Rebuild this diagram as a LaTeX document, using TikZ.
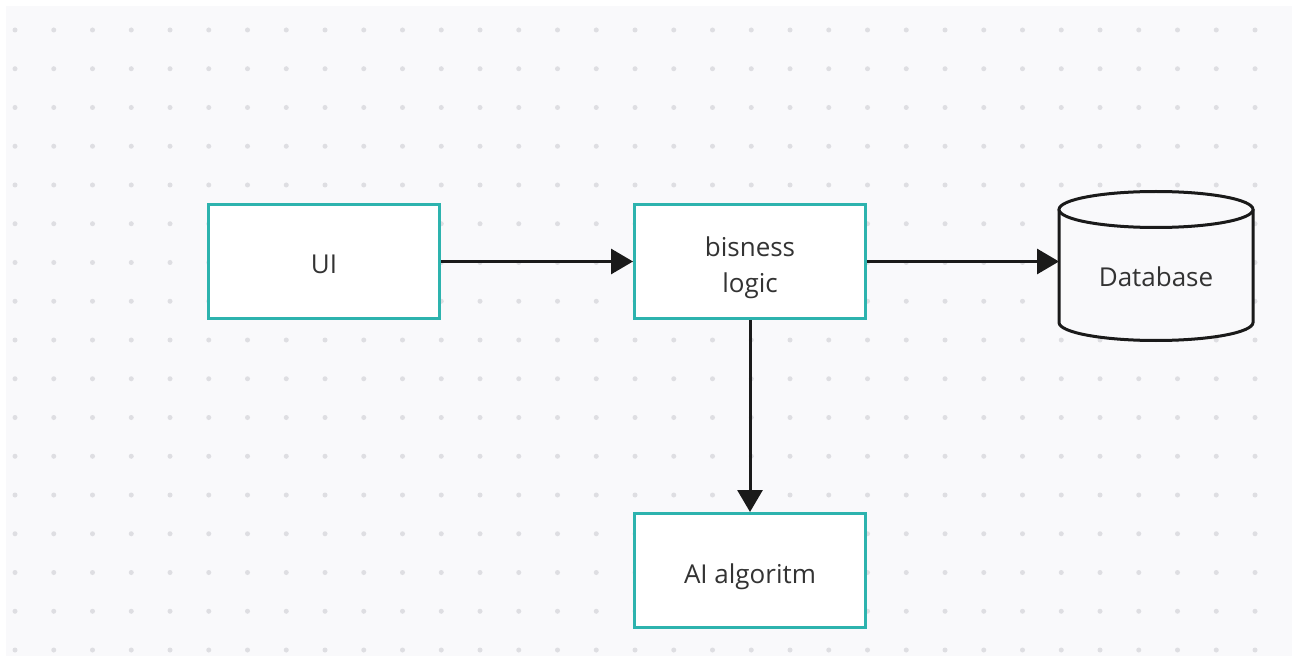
\documentclass[tikz,border=0pt]{standalone}
\usepackage{fontspec}
\setmainfont{Open Sans}
\usetikzlibrary{arrows.meta,positioning}

\definecolor{boardBg}{HTML}{F9F9FB}
\definecolor{gridDot}{HTML}{DEDEE2}
\definecolor{tealEdge}{HTML}{2DB3AE}
\definecolor{inkLine}{HTML}{1A1A1A}
\definecolor{inkText}{HTML}{333333}

\begin{document}
\begin{tikzpicture}[
    x=1pt, y=1pt,
    font=\fontsize{26}{36}\selectfont,
    text=inkText,
    node distance=192pt,
    block/.style={draw=tealEdge, fill=white, line width=3pt, align=center, minimum width=231pt, minimum height=114pt, inner sep=2pt, text height=31pt, text depth=6pt},
    dbshape/.style={minimum width=194pt, minimum height=149pt, inner sep=0pt, outer sep=0pt},
    dbline/.style={draw=inkLine, fill=boardBg, line width=3pt},
    arrow/.style={-{Triangle[length=22pt, width=25pt]}, draw=inkLine, line width=3pt}
]

% ---------- Board with dot grid ----------
\useasboundingbox (0,0) rectangle (1298,657);
\fill[white] (0,0) rectangle (1298,657);
\fill[boardBg] (6,1) rectangle (1292,651);
\foreach \i in {0,...,32}
  \foreach \j in {0,...,16}
    \fill[gridDot] (15+38.75*\i, 627-38.75*\j) circle (2.5pt);

% ---------- Top row ----------
\node[block] (ui) at (324,395.5) {UI};
\node[block, right=of ui, text height=67pt] (logic) {bisness\\logic};
\node[dbshape, right=of logic, yshift=-4.5pt] (db) {};

% cylinder round the db node
\draw[dbline] ([yshift=-18pt]db.north west) -- ([yshift=18pt]db.south west)
  arc[start angle=180, end angle=360, x radius=97pt, y radius=18pt]
  -- ([yshift=-18pt]db.north east);
\draw[dbline] ([yshift=-18pt]db.north) ellipse[x radius=97pt, y radius=18pt];
\node (dbtext) at ([yshift=-11pt]db.center) {Database};

% ---------- Bottom row ----------
\node[block, below=of logic] (algo) {AI algoritm};

% ---------- Edges ----------
\draw[arrow] (ui) -- (logic);
\draw[arrow] (logic.east) -- (logic.east -| db.west);
\draw[arrow] (logic) -- (algo);

\end{tikzpicture}
\end{document}
